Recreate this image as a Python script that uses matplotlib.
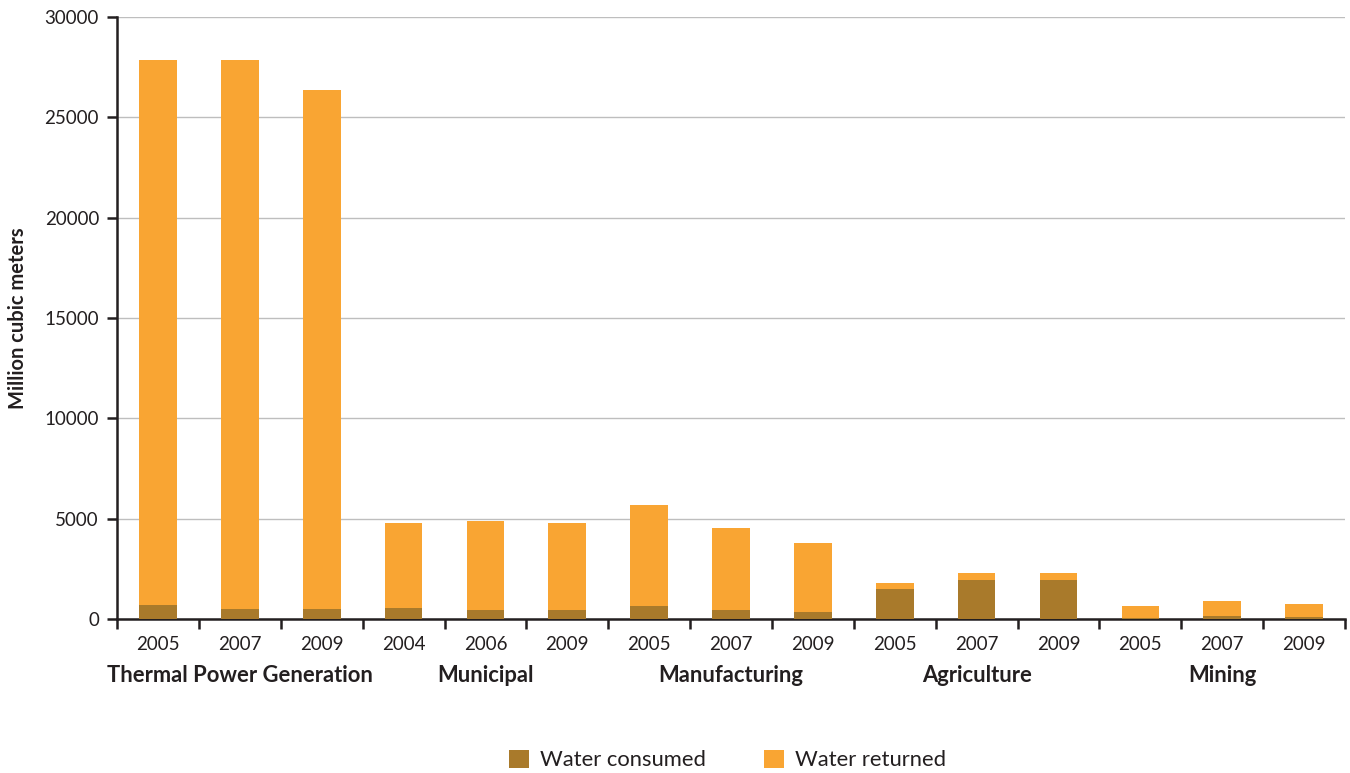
import matplotlib
matplotlib.use("Agg")
import matplotlib.pyplot as plt
import matplotlib.transforms as mtransforms
import numpy as np

plt.rcParams['font.family'] = ['Lato', 'DejaVu Sans']

groups = ["Thermal Power Generation", "Municipal", "Manufacturing", "Agriculture", "Mining"]
years = ["2005", "2007", "2009", "2004", "2006", "2009", "2005", "2007", "2009",
         "2005", "2007", "2009", "2005", "2007", "2009"]
totals = [27850, 27850, 26350, 4780, 4880, 4780, 5680, 4530, 3780,
          1790, 2290, 2290, 650, 900, 750]
consumed = [710, 500, 500, 550, 450, 450, 650, 450, 350,
            1500, 1940, 1940, 50, 150, 100]
returned = [t - c for t, c in zip(totals, consumed)]

c_cons = "#A97A2B"
c_ret = "#F9A533"
txt = "#231F20"

fig = plt.figure(figsize=(13.5, 7.73), dpi=100)
ax = fig.add_axes([0.0867, 0.1992, 0.9096, 0.7788])

x = np.arange(len(years))
ax.bar(x, consumed, width=0.46, color=c_cons, label="Water consumed", zorder=3)
ax.bar(x, returned, width=0.46, bottom=consumed, color=c_ret, label="Water returned", zorder=3)

ax.set_xlim(-0.5, len(years) - 0.5)
ax.set_ylim(0, 30000)
ax.set_yticks(np.arange(0, 30001, 5000))
ax.yaxis.grid(True, color="#BEBEBE", linewidth=1.0, zorder=0)
ax.set_axisbelow(True)

ax.set_xticks(x)
ax.set_xticklabels(years, fontsize=13.5, color=txt)
ax.set_xticks(np.arange(-0.5, len(years), 1), minor=True)
ax.tick_params(axis='x', which='major', length=0, pad=12)
ax.tick_params(axis='x', which='minor', length=7, width=1.8, color=txt, direction='out')
ax.tick_params(axis='y', length=7, width=1.8, color=txt, labelsize=13.5, labelcolor=txt, pad=6)

for s in ["top", "right"]:
    ax.spines[s].set_visible(False)
for s in ["left", "bottom"]:
    ax.spines[s].set_color(txt)
    ax.spines[s].set_linewidth(1.8)

ax.set_ylabel("Million cubic meters", fontsize=14.5, fontweight='bold', color=txt, labelpad=12)

trans = mtransforms.blended_transform_factory(ax.transData, ax.transAxes)
for i, g in enumerate(groups):
    ax.text(3 * i + 1, -0.093, g, transform=trans, ha='center', va='center',
            fontsize=15.8, fontweight='bold', color=txt)

fig.legend(loc='center', bbox_to_anchor=(0.539, 0.017), ncol=2, frameon=False,
           fontsize=15.8, handlelength=0.9, handleheight=0.9, columnspacing=2.65,
           handletextpad=0.5, labelcolor=txt)

fig.savefig("out.png", dpi=100)
